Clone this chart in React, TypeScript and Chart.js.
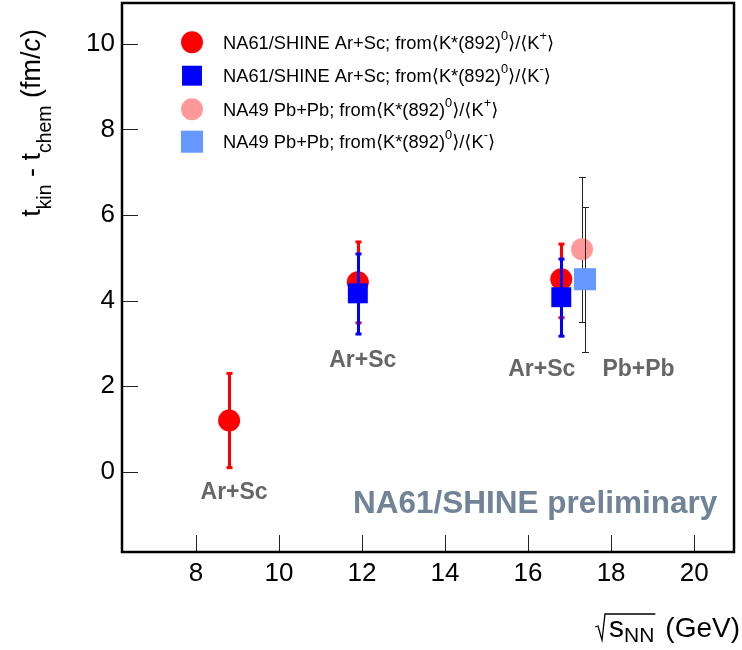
import React, { useEffect, useRef } from 'react';
import { Chart, registerables } from 'chart.js';

Chart.register(...registerables);

const FONT = "'Liberation Sans', Arial, Helvetica, 'DejaVu Sans', sans-serif";

// ---- axis ticks ----
const xTicks = [8, 10, 12, 14, 16, 18, 20];
const yTicks = [0, 2, 4, 6, 8, 10];

// ---- NA61/SHINE Ar+Sc from K*0/K+ ----
const arScPlusEnergy = [8.8, 11.9, 16.8];
const arScPlusT = [1.2, 4.43, 4.5];
const arScPlusLow = [0.1, 3.48, 3.6];
const arScPlusHigh = [2.3, 5.37, 5.32];

// ---- NA61/SHINE Ar+Sc from K*0/K- ----
const arScMinusEnergy = [11.9, 16.8];
const arScMinusT = [4.17, 4.08];
const arScMinusLow = [3.22, 3.17];
const arScMinusHigh = [5.09, 4.97];

// ---- NA49 Pb+Pb from K*0/K+ ----
const pbPlusEnergy = [17.3];
const pbPlusT = [5.2];
const pbPlusLow = [3.5];
const pbPlusHigh = [6.89];

// ---- NA49 Pb+Pb from K*0/K- ----
const pbMinusEnergy = [17.37];
const pbMinusT = [4.5];
const pbMinusLow = [2.8];
const pbMinusHigh = [6.18];

// ---- text ----
type Part = { t: string; s?: 'sub' | 'sup'; i?: boolean };
const legendLabels: Part[][] = [
  [{ t: 'NA61/SHINE Ar+Sc; from' }, { t: '\u27E8K*(892)' }, { t: '0', s: 'sup' }, { t: '\u27E9/\u27E8K' }, { t: '+', s: 'sup' }, { t: '\u27E9' }],
  [{ t: 'NA61/SHINE Ar+Sc; from' }, { t: '\u27E8K*(892)' }, { t: '0', s: 'sup' }, { t: '\u27E9/\u27E8K' }, { t: '-', s: 'sup' }, { t: '\u27E9' }],
  [{ t: 'NA49 Pb+Pb; from' }, { t: '\u27E8K*(892)' }, { t: '0', s: 'sup' }, { t: '\u27E9/\u27E8K' }, { t: '+', s: 'sup' }, { t: '\u27E9' }],
  [{ t: 'NA49 Pb+Pb; from' }, { t: '\u27E8K*(892)' }, { t: '0', s: 'sup' }, { t: '\u27E9/\u27E8K' }, { t: '-', s: 'sup' }, { t: '\u27E9' }],
];
const yTitle: Part[] = [{ t: 't' }, { t: 'kin', s: 'sub' }, { t: ' - t' }, { t: 'chem', s: 'sub' }, { t: ' (fm/' }, { t: 'c', i: true }, { t: ')' }];
const xTitleVar = 's';
const xTitleSub = 'NN';
const xTitleUnit = '(GeV)';

// system labels, anchored in data coordinates
const systemLabelText = ['Ar+Sc', 'Ar+Sc', 'Ar+Sc', 'Pb+Pb'];
const systemLabelX = [8.92, 12.02, 16.33, 18.66];
const systemLabelY = [-0.49, 2.59, 2.38, 2.38];
const prelimText = 'NA61/SHINE preliminary';
const prelimX = 16.17;
const prelimY = -0.76;

function drawRich(
  ctx: CanvasRenderingContext2D,
  parts: Part[],
  x: number,
  y: number,
  size: number,
  align: 'left' | 'right' | 'center',
  subScale = 0.7,
  subDrop = 0.25,
  supRaise = 0.42
) {
  const fontFor = (p: Part) => `${p.i ? 'italic ' : ''}${p.s ? size * subScale : size}px ${FONT}`;
  const widths = parts.map((p) => {
    ctx.font = fontFor(p);
    return ctx.measureText(p.t).width;
  });
  const total = widths.reduce((a, b) => a + b, 0);
  let cx = align === 'right' ? x - total : align === 'center' ? x - total / 2 : x;
  ctx.textAlign = 'left';
  ctx.textBaseline = 'alphabetic';
  parts.forEach((p, k) => {
    ctx.font = fontFor(p);
    const dy = p.s === 'sub' ? size * subDrop : p.s === 'sup' ? -size * supRaise : 0;
    ctx.fillText(p.t, cx, y + dy);
    cx += widths[k];
  });
  return total;
}

const errorBarPlugin = {
  id: 'errorBars',
  beforeDatasetDraw(chart: any, args: any) {
    const ds = chart.data.datasets[args.index];
    const ctx: CanvasRenderingContext2D = chart.ctx;
    const xs = chart.scales.x;
    const ys = chart.scales.y;
    ctx.save();
    ds.data.forEach((p: any, i: number) => {
      const px = Math.round(xs.getPixelForValue(p.x)) + (ds.errWidth % 2 ? 0.5 : 0);
      const top = ys.getPixelForValue(ds.errHigh[i]);
      const bot = ys.getPixelForValue(ds.errLow[i]);
      ctx.strokeStyle = ds.errColor;
      ctx.fillStyle = ds.errColor;
      ctx.lineWidth = ds.errWidth;
      ctx.beginPath();
      ctx.moveTo(px, top);
      ctx.lineTo(px, bot);
      ctx.stroke();
      const cw = ds.capWidth;
      if (ds.errWidth > 1) {
        ctx.fillRect(px - cw / 2, top - 1.5, cw, 3);
        ctx.fillRect(px - cw / 2, bot - 1.5, cw, 3);
      } else {
        ctx.beginPath();
        ctx.moveTo(px - cw / 2, Math.round(top) + 0.5);
        ctx.lineTo(px + cw / 2, Math.round(top) + 0.5);
        ctx.moveTo(px - cw / 2, Math.round(bot) + 0.5);
        ctx.lineTo(px + cw / 2, Math.round(bot) + 0.5);
        ctx.stroke();
      }
    });
    ctx.restore();
  },
};

const decorPlugin = {
  id: 'decor',
  afterDraw(chart: any) {
    const ctx: CanvasRenderingContext2D = chart.ctx;
    const { left, right, top, bottom } = chart.chartArea;
    const xs = chart.scales.x;
    const ys = chart.scales.y;
    ctx.save();

    // inward tick marks
    ctx.strokeStyle = '#222';
    ctx.lineWidth = 1;
    ctx.beginPath();
    xTicks.forEach((v) => {
      const px = Math.round(xs.getPixelForValue(v)) + 0.5;
      ctx.moveTo(px, bottom);
      ctx.lineTo(px, bottom - 17);
    });
    yTicks.forEach((v) => {
      const py = Math.round(ys.getPixelForValue(v)) + 0.5;
      ctx.moveTo(left, py);
      ctx.lineTo(left + 16, py);
    });
    ctx.stroke();

    // frame
    ctx.strokeStyle = '#000';
    ctx.lineWidth = 2.5;
    ctx.strokeRect(left, top, right - left, bottom - top);

    // system labels
    ctx.fillStyle = '#666666';
    ctx.font = `bold 23px ${FONT}`;
    ctx.textAlign = 'center';
    ctx.textBaseline = 'middle';
    systemLabelText.forEach((t, i) => {
      ctx.fillText(t, xs.getPixelForValue(systemLabelX[i]), ys.getPixelForValue(systemLabelY[i]));
    });

    // preliminary
    ctx.fillStyle = '#718397';
    ctx.font = `bold 31.5px ${FONT}`;
    ctx.fillText(prelimText, xs.getPixelForValue(prelimX), ys.getPixelForValue(prelimY));

    // legend
    const rows = [42.3, 75.7, 109.3, 141.7];
    chart.data.datasets.forEach((ds: any, i: number) => {
      const cy = rows[i];
      const cx = 192;
      ctx.fillStyle = ds.backgroundColor;
      if (ds.pointStyle === 'circle') {
        ctx.beginPath();
        ctx.arc(cx, cy, ds.pointRadius, 0, Math.PI * 2);
        ctx.fill();
      } else {
        const h = ds.pointRadius * Math.SQRT1_2;
        ctx.fillRect(cx - h, cy - h, 2 * h, 2 * h);
      }
      ctx.fillStyle = '#000';
      drawRich(ctx, legendLabels[i], 223, cy + 6.6, 18.3, 'left', 0.7, 0.25, 0.5);
    });

    // y title (rotated)
    ctx.fillStyle = '#000';
    ctx.save();
    ctx.translate(40, 29);
    ctx.rotate(-Math.PI / 2);
    drawRich(ctx, yTitle, 0, 0, 27, 'right', 0.72, 0.4, 0.45);
    ctx.restore();

    // x title with sqrt sign
    const baseY = 637;
    ctx.textAlign = 'right';
    ctx.textBaseline = 'alphabetic';
    ctx.font = `28px ${FONT}`;
    ctx.fillText(xTitleUnit, 740, baseY);
    const unitW = ctx.measureText(xTitleUnit).width;
    ctx.font = `21px ${FONT}`;
    const nnW = ctx.measureText(xTitleSub).width;
    const nnEnd = 740 - unitW - 11;
    ctx.fillText(xTitleSub, nnEnd, baseY + 5);
    ctx.font = `30px ${FONT}`;
    const sW = ctx.measureText(xTitleVar).width;
    const sEnd = nnEnd - nnW;
    ctx.fillText(xTitleVar, sEnd, baseY);
    const sStart = sEnd - sW;
    ctx.strokeStyle = '#000';
    ctx.lineWidth = 1.3;
    ctx.beginPath();
    ctx.moveTo(sStart - 14, baseY - 10);
    ctx.lineTo(sStart - 11, baseY - 11);
    ctx.lineTo(sStart - 7, baseY + 3);
    ctx.lineTo(sStart - 4, baseY - 23);
    ctx.lineTo(nnEnd + 1, baseY - 23);
    ctx.stroke();

    ctx.restore();
  },
};

export default function App() {
  const ref = useRef<HTMLCanvasElement>(null);
  useEffect(() => {
    const mk = (xs: number[], ys: number[]) => xs.map((x, i) => ({ x, y: ys[i] }));
    const chart = new Chart(ref.current as HTMLCanvasElement, {
      type: 'scatter',
      data: {
        datasets: [
          {
            label: 'NA61/SHINE Ar+Sc K+',
            data: mk(arScPlusEnergy, arScPlusT),
            errLow: arScPlusLow,
            errHigh: arScPlusHigh,
            errColor: '#ff0000',
            errWidth: 3,
            capWidth: 6,
            pointStyle: 'circle',
            pointRadius: 11,
            backgroundColor: '#ff0000',
            borderWidth: 0,
            order: 4,
          } as any,
          {
            label: 'NA61/SHINE Ar+Sc K-',
            data: mk(arScMinusEnergy, arScMinusT),
            errLow: arScMinusLow,
            errHigh: arScMinusHigh,
            errColor: '#0000ff',
            errWidth: 3,
            capWidth: 6,
            pointStyle: 'rect',
            pointRadius: 14.1,
            backgroundColor: '#0000ff',
            borderWidth: 0,
            order: 3,
          } as any,
          {
            label: 'NA49 Pb+Pb K+',
            data: mk(pbPlusEnergy, pbPlusT),
            errLow: pbPlusLow,
            errHigh: pbPlusHigh,
            errColor: '#222222',
            errWidth: 1,
            capWidth: 7,
            pointStyle: 'circle',
            pointRadius: 11,
            backgroundColor: '#ff9999',
            borderWidth: 0,
            order: 2,
          } as any,
          {
            label: 'NA49 Pb+Pb K-',
            data: mk(pbMinusEnergy, pbMinusT),
            errLow: pbMinusLow,
            errHigh: pbMinusHigh,
            errColor: '#222222',
            errWidth: 1,
            capWidth: 7,
            pointStyle: 'rect',
            pointRadius: 15.6,
            backgroundColor: '#6699ff',
            borderWidth: 0,
            order: 1,
          } as any,
        ],
      },
      options: {
        responsive: false,
        animation: false,
        devicePixelRatio: 1,
        layout: { autoPadding: false, padding: { top: 3, right: 8, left: 0, bottom: 0 } },
        plugins: { legend: { display: false }, tooltip: { enabled: false } },
        elements: { point: { borderWidth: 0, hoverRadius: 0 } },
        scales: {
          x: {
            type: 'linear',
            min: 6.22,
            max: 20.96,
            grid: { display: false, drawTicks: false },
            border: { display: false },
            ticks: { font: { family: FONT, size: 26 }, color: '#000', padding: 6, autoSkip: false, maxRotation: 0 },
            afterBuildTicks: (s: any) => {
              s.ticks = xTicks.map((v) => ({ value: v }));
            },
            afterFit: (s: any) => {
              s.height = 98;
              s.paddingLeft = 0;
              s.paddingRight = 0;
            },
          },
          y: {
            type: 'linear',
            min: -1.87,
            max: 10.95,
            grid: { display: false, drawTicks: false },
            border: { display: false },
            ticks: { font: { family: FONT, size: 26 }, color: '#000', padding: 7, autoSkip: false },
            afterBuildTicks: (s: any) => {
              s.ticks = yTicks.map((v) => ({ value: v }));
            },
            afterFit: (s: any) => {
              s.width = 122;
              s.paddingTop = 0;
              s.paddingBottom = 0;
            },
          },
        },
      } as any,
      plugins: [errorBarPlugin, decorPlugin],
    });
    return () => chart.destroy();
  }, []);
  return (
    <div style={{ position: 'absolute', left: 0, top: 0, width: 742, height: 650, background: '#fff' }}>
      <canvas ref={ref} width={742} height={650} style={{ display: 'block', width: 742, height: 650 }} />
    </div>
  );
}
